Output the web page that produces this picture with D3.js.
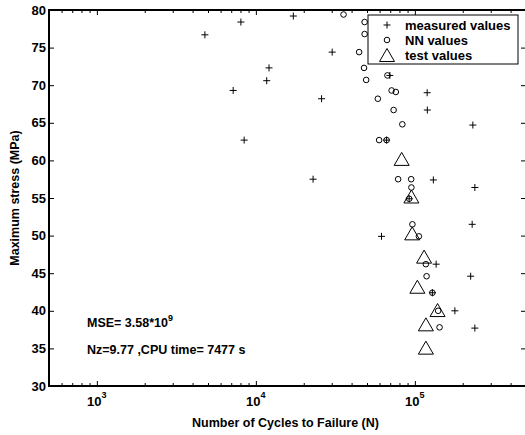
<!DOCTYPE html>
<html>
<head>
<meta charset="utf-8">
<script src="https://cdn.jsdelivr.net/npm/d3@7"></script>
<style>
body { margin: 0; background: #fff; }
svg { display: block; font-family: "Liberation Sans", Arial, sans-serif; font-weight: bold; }
.axis path { display: none; }
.axis line { stroke: #000; stroke-width: 1; }
</style>
</head>
<body>
<svg width="525" height="435"></svg>
<script>
// measured values: cycles to failure / max stress (MPa)
var measuredN = [17200, 8050, 4780, 30200, 12100, 69600, 11700, 7200, 119500, 25900, 119800, 231600, 66400, 8440,
	22900, 130700, 238400, 92100, 229300, 61700, 136100, 224400, 128900, 178500, 238400];
var measuredS = [79.2, 78.4, 76.7, 74.4, 72.3, 71.3, 70.6, 69.3, 69.0, 68.2, 66.7, 64.7, 62.7, 62.7,
	57.5, 57.4, 56.4, 54.9, 51.5, 49.9, 46.2, 44.6, 42.4, 40.0, 37.7];

// NN values
var nnN = [35600, 48300, 48300, 44600, 47900, 67200, 49400, 71400, 75900, 58500, 73500, 83400, 59600, 66400,
	78500, 94800, 95100, 92100, 96500, 106000, 117300, 118500, 128900, 140100, 143000];
var nnS = [79.4, 78.4, 76.8, 74.4, 72.3, 71.3, 70.7, 69.3, 69.1, 68.2, 66.7, 64.8, 62.7, 62.7,
	57.5, 57.5, 56.4, 54.9, 51.5, 49.9, 46.2, 44.6, 42.4, 40.0, 37.8];

// test values
var testN = [82600, 95100, 96200, 114300, 103700, 138900, 117300, 117300];
var testS = [60.2, 55.2, 50.3, 47.2, 43.2, 40.1, 38.2, 35.1];

var xMajor = [1e3, 1e4, 1e5];
var xMajorExp = ["3", "4", "5"];
var yTicks = [30, 35, 40, 45, 50, 55, 60, 65, 70, 75, 80];
var legendLabels = ["measured values", "NN values", "test values"];

function chart() {
	var svg = d3.select("svg"),
		pLeft = 49, pRight = 526, pTop = 10, pBottom = 386;

	var x = d3.scaleLog().domain([500, 500000]).range([pLeft, pRight]);
	var y = d3.scaleLinear().domain([30, 80]).range([pBottom, pTop]);

	var xMinor = x.ticks().filter(function(d) { return xMajor.indexOf(d) < 0; });

	// ticks, all pointing inwards
	svg.append("g").attr("class", "axis")
		.attr("transform", "translate(0," + pBottom + ")")
		.call(d3.axisBottom(x).tickValues(xMinor).tickSize(-3).tickSizeOuter(0).tickFormat(""));
	svg.append("g").attr("class", "axis")
		.attr("transform", "translate(0," + pBottom + ")")
		.call(d3.axisBottom(x).tickValues(xMajor).tickSize(-5).tickSizeOuter(0).tickFormat(""));
	svg.append("g").attr("class", "axis")
		.attr("transform", "translate(0," + pTop + ")")
		.call(d3.axisTop(x).tickValues(xMinor).tickSize(-3).tickSizeOuter(0).tickFormat(""));
	svg.append("g").attr("class", "axis")
		.attr("transform", "translate(0," + pTop + ")")
		.call(d3.axisTop(x).tickValues(xMajor).tickSize(-5).tickSizeOuter(0).tickFormat(""));

	var yl = svg.append("g").attr("class", "axis")
		.attr("transform", "translate(" + pLeft + ",0)")
		.call(d3.axisLeft(y).tickValues(yTicks).tickSize(-5).tickSizeOuter(0).tickPadding(3));
	yl.selectAll("text").attr("font-size", 13).attr("font-weight", "bold")
		.attr("font-family", "Liberation Sans, Arial, sans-serif").attr("fill", "#000");
	svg.append("g").attr("class", "axis")
		.attr("transform", "translate(" + pRight + ",0)")
		.call(d3.axisRight(y).tickValues(yTicks).tickSize(-5).tickSizeOuter(0).tickFormat(""));

	// frame
	svg.append("rect")
		.attr("x", pLeft).attr("y", pTop)
		.attr("width", pRight - pLeft).attr("height", pBottom - pTop)
		.attr("fill", "none").attr("stroke", "#000").attr("stroke-width", 2);

	// x tick labels 10^n
	var xl = svg.append("g").selectAll("text")
		.data(xMajor)
		.enter().append("text")
		.attr("x", function(d) { return x(d); })
		.attr("y", 406)
		.attr("text-anchor", "middle")
		.attr("font-size", 13);
	xl.append("tspan").text("10");
	xl.append("tspan").attr("dy", -8).attr("font-size", 9).text(function(d, i) { return xMajorExp[i]; });

	// axis titles
	svg.append("text")
		.attr("x", (pLeft + pRight) / 2 - 2).attr("y", 427)
		.attr("text-anchor", "middle").attr("font-size", 12.5)
		.text("Number of Cycles to Failure (N)");
	svg.append("text")
		.attr("transform", "translate(19," + (pTop + pBottom) / 2 + ") rotate(-90)")
		.attr("text-anchor", "middle").attr("font-size", 12.5)
		.text("Maximum stress (MPa)");

	// markers
	var plusPath = "M-3.5,0H3.5M0,-3.5V3.5",
		triPath = "M0,-6.5L7.5,6.5L-7.5,6.5Z";

	svg.append("g").selectAll("path")
		.data(measuredN)
		.enter().append("path")
		.attr("transform", function(d, i) { return "translate(" + x(d) + "," + y(measuredS[i]) + ")"; })
		.attr("d", plusPath)
		.attr("stroke", "#000").attr("stroke-width", 1).attr("fill", "none");

	svg.append("g").selectAll("circle")
		.data(nnN)
		.enter().append("circle")
		.attr("cx", function(d) { return x(d); })
		.attr("cy", function(d, i) { return y(nnS[i]); })
		.attr("r", 2.8)
		.attr("stroke", "#000").attr("stroke-width", 1).attr("fill", "none");

	svg.append("g").selectAll("path")
		.data(testN)
		.enter().append("path")
		.attr("transform", function(d, i) { return "translate(" + x(d) + "," + y(testS[i]) + ")"; })
		.attr("d", triPath)
		.attr("stroke", "#000").attr("stroke-width", 1).attr("fill", "none");

	// annotations
	var mse = svg.append("text").attr("x", 87).attr("y", 327).attr("font-size", 12.5);
	mse.append("tspan").text("MSE= 3.58*10");
	mse.append("tspan").attr("dy", -6).attr("font-size", 9).text("9");
	svg.append("text").attr("x", 87).attr("y", 354).attr("font-size", 12.5)
		.text("Nz=9.77 ,CPU time= 7477 s");

	// legend
	var legend = svg.append("g");
	legend.append("rect")
		.attr("x", 368).attr("y", 15).attr("width", 150).attr("height", 49)
		.attr("fill", "#fff").attr("stroke", "#000").attr("stroke-width", 1);

	var rows = legend.selectAll("g")
		.data(legendLabels)
		.enter().append("g")
		.attr("transform", function(d, i) { return "translate(0," + (25 + i * 15) + ")"; });
	rows.append("text").attr("x", 405).attr("y", 4.5).attr("font-size", 13).text(function(d) { return d; });
	rows.filter(function(d, i) { return i == 0; }).append("path")
		.attr("transform", "translate(387,0)").attr("d", plusPath)
		.attr("stroke", "#000").attr("fill", "none");
	rows.filter(function(d, i) { return i == 1; }).append("circle")
		.attr("cx", 387).attr("r", 2.8)
		.attr("stroke", "#000").attr("fill", "none");
	rows.filter(function(d, i) { return i == 2; }).append("path")
		.attr("transform", "translate(387,0)").attr("d", triPath)
		.attr("stroke", "#000").attr("fill", "none");
}

chart();
</script>
</body>
</html>
